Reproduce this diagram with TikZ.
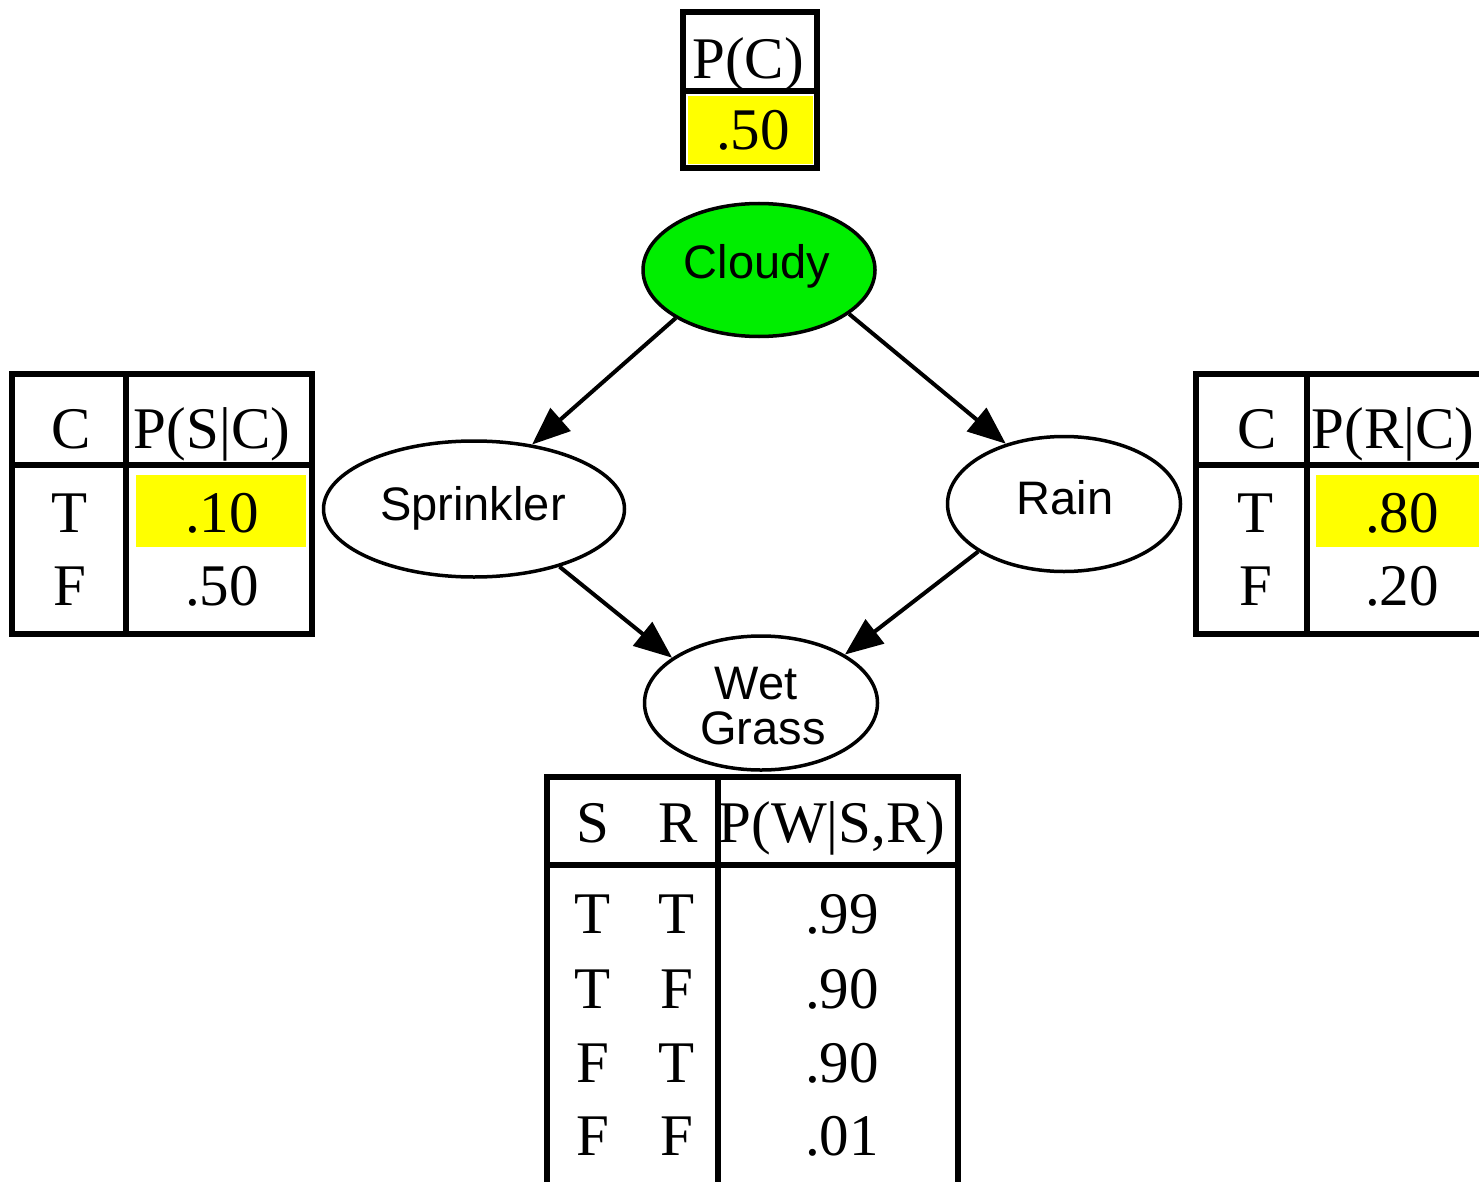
\documentclass[tikz,border=0pt]{standalone}
\usepackage{fontspec}
\setmainfont{Liberation Serif}
\setsansfont{Liberation Sans}
\usetikzlibrary{arrows.meta,shapes.geometric}
\definecolor{cgreen}{RGB}{0,238,0}
\definecolor{cyellow}{RGB}{255,255,0}
\begin{document}
\begin{tikzpicture}[x=1pt,y=-1pt,
  vnode/.style={ellipse,draw,line width=3.5pt,inner sep=0pt},
  vlab/.style={font=\sffamily\fontsize{47}{50}\selectfont,inner sep=0pt,anchor=base},
  tline/.style={line width=5.5pt},
  ttxt/.style={font=\fontsize{59}{60}\selectfont,inner sep=0pt,anchor=base},
  edge/.style={line width=4pt,-{Triangle[length=38pt,width=30pt]}}]
\useasboundingbox (0,0) rectangle (1479,1182);
\clip (0,0) rectangle (1479,1182);
\fill[white] (0,0) rectangle (1479,1182);

% P(C) table
\fill[cyellow] (688,96) rectangle (813,164);
\draw[tline] (683,12) rectangle (817,168);
\draw[tline] (683,91) -- (817,91);
\node[ttxt] (pcH) at (748,79) {P(C)};
\node[ttxt] (pcV) at (753,150) {.50};

% P(S|C) table
\fill[cyellow] (136,475) rectangle (306,547);
\draw[tline] (12,374) rectangle (312,634);
\draw[tline] (126,374) -- (126,634);
\draw[tline] (12,465) -- (312,465);
\node[ttxt] (psH1) at (71,448) {C};
\node[ttxt] (psH2) at (212,448) {P(S|C)};
\node[ttxt] (psT) at (70,532) {T};
\node[ttxt] (psF) at (70,605) {F};
\node[ttxt] (psV1) at (222,532) {.10};
\node[ttxt] (psV2) at (222,605) {.50};

% P(R|C) table
\fill[cyellow] (1316,475) rectangle (1490,547);
\draw[tline] (1196,374) rectangle (1500,634);
\draw[tline] (1307,374) -- (1307,634);
\draw[tline] (1196,465) -- (1500,465);
\node[ttxt] (prH1) at (1257,448) {C};
\node[ttxt] (prH2) at (1393,448) {P(R|C)};
\node[ttxt] (prT) at (1256,532) {T};
\node[ttxt] (prF) at (1256,605) {F};
\node[ttxt] (prV1) at (1402,532) {.80};
\node[ttxt] (prV2) at (1402,605) {.20};

% P(W|S,R) table
\draw[tline] (547,777) rectangle (958,1200);
\draw[tline] (718,777) -- (718,1200);
\draw[tline] (547,865) -- (958,865);
\node[ttxt] (pwH1) at (593,842) {S};
\node[ttxt] (pwH2) at (678,842) {R};
\node[ttxt] (pwH3) at (832,842) {P(W|S,R)};
\node[ttxt] (pwS1) at (593,933) {T};
\node[ttxt] (pwR1) at (677,933) {T};
\node[ttxt] (pwV1) at (842,933) {.99};
\node[ttxt] (pwS2) at (593,1008) {T};
\node[ttxt] (pwR2) at (677,1008) {F};
\node[ttxt] (pwV2) at (842,1008) {.90};
\node[ttxt] (pwS3) at (593,1082) {F};
\node[ttxt] (pwR3) at (677,1082) {T};
\node[ttxt] (pwV3) at (842,1082) {.90};
\node[ttxt] (pwS4) at (593,1155) {F};
\node[ttxt] (pwR4) at (677,1155) {F};
\node[ttxt] (pwV4) at (842,1155) {.01};

% nodes
\node[vnode,fill=cgreen,minimum width=232pt,minimum height=133pt] (cloudy) at (759,270) {};
\node[vnode,minimum width=301pt,minimum height=136pt] (sprinkler) at (474,509) {};
\node[vnode,minimum width=233pt,minimum height=135pt] (rain) at (1064,504) {};
\node[vnode,minimum width=233pt,minimum height=134pt] (wet) at (761,703) {};
\node[vlab] (cloudyL) at (757,278) {Cloudy};
\node[vlab] (sprinklerL) at (473,520) {Sprinkler};
\node[vlab] (rainL) at (1065,514) {Rain};
\node[vlab] (wetL1) at (756,699) {Wet};
\node[vlab] (wetL2) at (763,744) {Grass};

% edges
\draw[edge] (cloudy.210) -- (sprinkler.48);
\draw[edge] (cloudy.334) -- (rain.134);
\draw[edge] (sprinkler.326) -- (wet.153);
\draw[edge] (rain.209) -- (wet.30);
\end{tikzpicture}
\end{document}
